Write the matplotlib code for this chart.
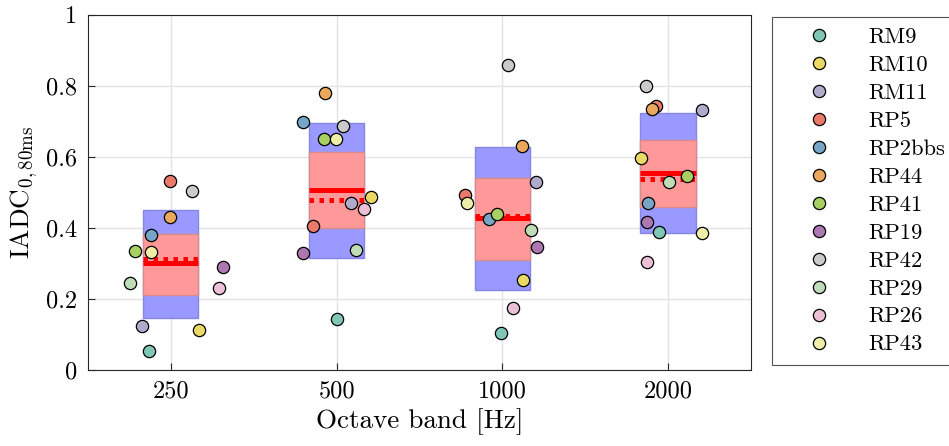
import matplotlib
matplotlib.use('Agg')
import matplotlib.pyplot as plt
from matplotlib.lines import Line2D
from matplotlib.patches import Rectangle
import numpy as np

# Computer Modern look
plt.rcParams['font.family'] = 'serif'
plt.rcParams['font.serif'] = ['cmr10']
plt.rcParams['mathtext.fontset'] = 'cm'
plt.rcParams['axes.unicode_minus'] = False

# Data
bands = ['250', '500', '1000', '2000']
sites = ['RM9', 'RM10', 'RM11', 'RP5', 'RP2bbs', 'RP44',
         'RP41', 'RP19', 'RP42', 'RP29', 'RP26', 'RP43']
site_colors = ['#7fc6b6', '#ebd965', '#b0abcc', '#e9796b', '#76a5c6', '#eba75b',
               '#a7cf62', '#ad77b0', '#cacaca', '#bedcb8', '#ebc0d6', '#eeeea8']

# IADC per band, in site order
iadc_250 = [0.052, 0.111, 0.123, 0.530, 0.380, 0.431, 0.333, 0.289, 0.503, 0.245, 0.231, 0.330]
iadc_500 = [0.143, 0.486, 0.468, 0.405, 0.697, 0.780, 0.651, 0.327, 0.685, 0.336, 0.451, 0.649]
iadc_1000 = [0.102, 0.253, 0.528, 0.492, 0.423, 0.630, 0.437, 0.346, 0.858, 0.394, 0.174, 0.468]
iadc_2000 = [0.387, 0.596, 0.732, 0.744, 0.470, 0.733, 0.546, 0.415, 0.800, 0.528, 0.303, 0.384]

# horizontal jitter of each point (band units)
jit_250 = [-0.131, 0.168, -0.173, -0.004, -0.120, -0.004, -0.215, 0.313, 0.130, -0.244, 0.293, -0.117]
jit_500 = [0.002, 0.209, 0.089, -0.140, -0.205, -0.070, -0.076, -0.200, 0.038, 0.116, 0.163, -0.006]
jit_1000 = [-0.006, 0.127, 0.201, -0.223, -0.080, 0.119, -0.032, 0.211, 0.032, 0.173, 0.062, -0.215]
jit_2000 = [-0.052, -0.165, 0.203, -0.074, -0.124, -0.095, 0.116, -0.128, -0.134, 0.006, -0.126, 0.203]

# box statistics per band
std_lo = [0.144, 0.315, 0.223, 0.385]
std_hi = [0.450, 0.696, 0.627, 0.722]
ci_lo = [0.209, 0.399, 0.310, 0.458]
ci_hi = [0.383, 0.613, 0.540, 0.648]
means = [0.300, 0.507, 0.426, 0.554]
medians = [0.311, 0.478, 0.434, 0.537]

values = np.array([iadc_250, iadc_500, iadc_1000, iadc_2000])
jitter = np.array([jit_250, jit_500, jit_1000, jit_2000])
xpos = np.arange(1, len(bands) + 1)

fig = plt.figure(figsize=(9.49, 4.46), dpi=100)
ax = fig.add_axes([0.0927, 0.1715, 0.6986, 0.7955])

w = 1 / 3
for i, x in enumerate(xpos):
    ax.add_patch(Rectangle((x - w / 2, std_lo[i]), w, std_hi[i] - std_lo[i],
                           facecolor='#9999ff', edgecolor='#8585e8', lw=1.0, zorder=2))
    ax.add_patch(Rectangle((x - w / 2, ci_lo[i]), w, ci_hi[i] - ci_lo[i],
                           facecolor='#ff9999', edgecolor='#d98b8b', lw=1.0, zorder=3))
    ax.plot([x - w / 2, x + w / 2], [means[i], means[i]], color='red', lw=3.6,
            solid_capstyle='butt', zorder=4)
    ax.plot([x - w / 2, x + w / 2], [medians[i], medians[i]], color='red', lw=3.6,
            linestyle=(0, (0.9, 1.1)), dash_capstyle='butt', zorder=4)

for j, name in enumerate(sites):
    ax.scatter(xpos + jitter[:, j], values[:, j], s=78, color=site_colors[j],
               edgecolor='black', linewidth=0.9, zorder=5, label=name)

ax.set_xlim(0.5, 4.5)
ax.set_ylim(0, 1)
ax.set_xticks(xpos)
ax.set_xticklabels(bands)
ax.set_yticks([0, 0.2, 0.4, 0.6, 0.8, 1])
ax.set_yticklabels(['0', '0.2', '0.4', '0.6', '0.8', '1'])
ax.tick_params(direction='in', length=5, width=0.8, color='#262626',
               labelsize=17.5, pad=8)
ax.grid(True, color='#e3e3e3', linewidth=1.0, zorder=0)
ax.set_axisbelow(True)
for s in ax.spines.values():
    s.set_color('#262626')
    s.set_linewidth(0.8)

ax.set_xlabel('Octave band [Hz]', fontsize=19.5, labelpad=4)
ax.set_ylabel(r'IADC$_{0,80\mathrm{ms}}$', fontsize=19.5, labelpad=4)

handles = [Line2D([], [], marker='o', linestyle='none', markersize=8.8,
                  markerfacecolor=c, markeredgecolor='black', markeredgewidth=0.9)
           for c in site_colors]
leg = fig.legend(handles, sites, loc='upper left', bbox_to_anchor=(772 / 949, 1 - 17 / 446),
                 fontsize=16.2, frameon=True, fancybox=False, edgecolor='#262626',
                 borderpad=0.45, handlelength=3.3, handletextpad=0.55,
                 labelspacing=0.365, borderaxespad=0)
leg.get_frame().set_linewidth(0.8)

fig.savefig('out.png', dpi=100)
